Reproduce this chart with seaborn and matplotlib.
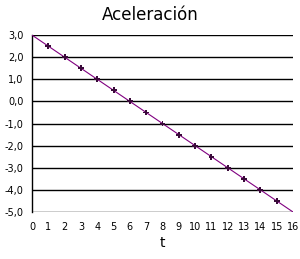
import matplotlib
matplotlib.use("Agg")
import matplotlib.pyplot as plt
import seaborn as sns
import pandas as pd

t_values = [0, 1, 2, 3, 4, 5, 6, 7, 8, 9, 10, 11, 12, 13, 14, 15, 16]
accel = [3.0, 2.5, 2.0, 1.5, 1.0, 0.5, 0.0, -0.5, -1.0, -1.5, -2.0, -2.5, -3.0, -3.5, -4.0, -4.5, -5.0]
y_ticks = [3, 2, 1, 0, -1, -2, -3, -4, -5]
y_tick_labels = ["3,0", "2,0", "1,0", "0,0", "-1,0", "-2,0", "-3,0", "-4,0", "-5,0"]
x_ticks = list(range(0, 17))

sns.set_style("white")
plt.rcParams['font.family'] = ['DejaVu Sans']
plt.rcParams['text.color'] = 'black'
plt.rcParams['xtick.color'] = 'black'
plt.rcParams['ytick.color'] = 'black'
plt.rcParams['axes.labelcolor'] = 'black'

df = pd.DataFrame({"t": t_values, "a": accel})

fig = plt.figure(figsize=(3.0, 2.59), dpi=100)
ax = fig.add_axes([0.1067, 0.1815, 0.87, 0.683])

for y in y_ticks:
    ax.axhline(y, color="black", lw=1.0, zorder=1)

sns.lineplot(data=df, x="t", y="a", ax=ax, color="#800080", lw=0.8, zorder=3)
sns.scatterplot(data=df.iloc[1:-1], x="t", y="a", ax=ax, marker="P", s=18,
                color="#3a0a3a", edgecolor="none", zorder=4)

ax.set_xlim(0, 16)
ax.set_ylim(-5, 3)
ax.set_xticks(x_ticks)
ax.set_xticklabels([str(v) for v in x_ticks], fontsize=7)
ax.set_yticks(y_ticks)
ax.set_yticklabels(y_tick_labels, fontsize=7)
ax.tick_params(axis="both", length=4, width=1, colors="black", pad=2, direction="out")
ax.tick_params(axis="x", pad=3)

for s in ["top", "right", "bottom"]:
    ax.spines[s].set_visible(False)
ax.spines["left"].set_color("black")
ax.spines["left"].set_linewidth(1)

ax.set_xlabel("t", fontsize=10, labelpad=3, color="black")
ax.set_ylabel("")
fig.suptitle("Aceleración", fontsize=12, y=0.975, color="black")

fig.savefig("out.png", dpi=100)
